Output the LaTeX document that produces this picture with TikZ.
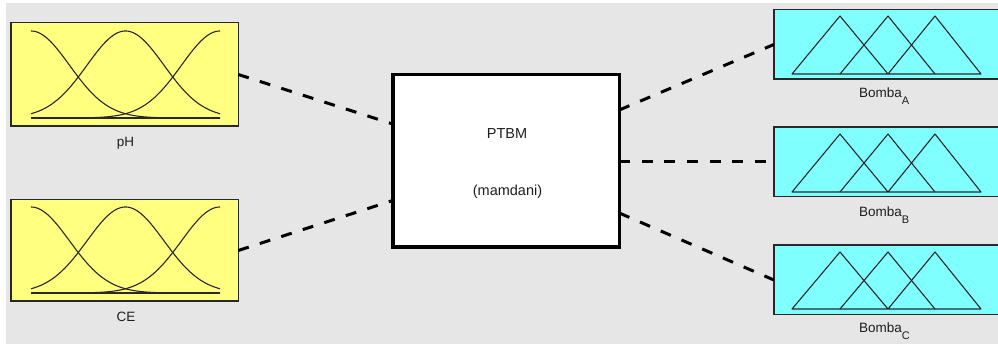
\documentclass[tikz,border=0pt]{standalone}
\usepackage{fontspec}
\setmainfont{Liberation Sans}
\usetikzlibrary{calc}
\definecolor{panelgray}{RGB}{230,230,230}
\definecolor{inyellow}{RGB}{255,255,128}
\definecolor{outcyan}{RGB}{128,255,255}
\definecolor{mfline}{RGB}{40,40,40}
\definecolor{labeltext}{RGB}{30,30,30}
\begin{document}
\begin{tikzpicture}[x=1pt,y=-1pt,
  inbox/.style={draw=mfline, line width=1.5pt, fill=inyellow, inner sep=0pt, outer sep=0pt,
                minimum width=227.5pt},
  outbox/.style={draw=mfline, line width=1.5pt, fill=outcyan, inner sep=0pt, outer sep=0pt,
                minimum width=226.25pt, minimum height=69.5pt},
  fisbox/.style={draw=black, line width=3.5pt, fill=white, inner sep=0pt, outer sep=0pt,
                minimum width=226.5pt, minimum height=172.5pt},
  mf/.style={draw=mfline, line width=1.1pt, line join=round},
  lbl/.style={inner sep=0pt, text=labeltext, font=\fontsize{13.5}{16}\selectfont, anchor=base},
  outlbl/.style={lbl, anchor=base west},
  link/.style={draw=black, line width=3pt, dash pattern=on 11pt off 11.6pt}
]
\useasboundingbox (0,0) rectangle (998,344);
\clip (0,0) rectangle (998,344);
% panel background
\fill[panelgray] (6,3) rectangle (998,344);

% input variables
\node[inbox, minimum height=103.5pt] (ph) at (124.5,74.5) {};
\node[inbox, minimum height=101.5pt] (ce) at (124.5,250.5) {};
% inference system
\node[fisbox] (fis) at (506,161) {};
% output variables
\node[outbox] (bA) at (887,44.5) {};
\node[outbox] (bB) at (887,162) {};
\node[outbox] (bC) at (887,280) {};

% gaussian membership functions
\foreach \c in {31,125.5,220}{
  \draw[mf] plot[domain=31:220, samples=90, smooth] (\x, {118-87*exp(-0.5*((\x-\c)/38.5)^2)});
  \draw[mf] plot[domain=31:220, samples=90, smooth] (\x, {293-86*exp(-0.5*((\x-\c)/38.5)^2)});
}
\draw[mf] (31,118) -- (220,118);
\draw[mf] (31,293) -- (220,293);

% triangular membership functions
\foreach \b/\p in {74/16, 192/134, 309/252}{
  \draw[mf] (792,\b) -- (840,\p) -- (888,\b) -- (935,\p) -- (981,\b) -- cycle;
  \draw[mf] (840,\b) -- (888,\p) -- (935,\b);
}

% labels
\node[lbl] (phl) at (125.5,147) {pH};
\node[lbl] (cel) at (126,322) {CE};
\node[outlbl] (bAl) at (859,98) {Bomba\raisebox{-6.5pt}{\fontsize{11}{11}\selectfont A}};
\node[outlbl] (bBl) at (859,217) {Bomba\raisebox{-6.5pt}{\fontsize{11}{11}\selectfont B}};
\node[outlbl] (bCl) at (859,333) {Bomba\raisebox{-6.5pt}{\fontsize{11}{11}\selectfont C}};
\node[lbl, font=\fontsize{14.5}{17}\selectfont] (name) at (507,139) {PTBM};
\node[lbl, font=\fontsize{14.5}{17}\selectfont] (type) at (507.5,196) {(mamdani)};

% connection points on the inference box
\coordinate (fisInA) at ($(fis.west)+(0,-37)$);
\coordinate (fisInB) at ($(fis.west)+(0,39.5)$);
\coordinate (fisOutA) at ($(fis.east)+(0,-51)$);
\coordinate (fisOutB) at (fis.east |- bB.west);
\coordinate (fisOutC) at ($(fis.east)+(0,52)$);

% connectors
\draw[link] (ph.east) -- (fisInA);
\draw[link] (ce.east) -- (fisInB);
\draw[link] (fisOutA) -- (bA.west);
\draw[link] (fisOutB) -- (bB.west);
\draw[link] (fisOutC) -- (bC.west);
\end{tikzpicture}
\end{document}
